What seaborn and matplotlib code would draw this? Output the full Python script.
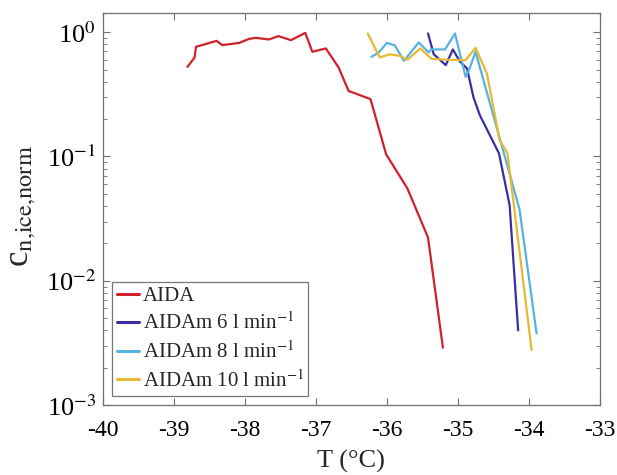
import numpy as np
import pandas as pd
import matplotlib
matplotlib.use("Agg")
import matplotlib.pyplot as plt
import seaborn as sns
from matplotlib.ticker import LogLocator, NullFormatter, FuncFormatter

# AIDA chamber
t_aida = [-38.81, -38.71, -38.69, -38.40, -38.32, -38.08, -37.94, -37.85, -37.66,
          -37.53, -37.35, -37.15, -37.05, -36.86, -36.68, -36.54, -36.23, -36.01,
          -35.71, -35.42, -35.21]
c_aida = [0.526, 0.625, 0.762, 0.851, 0.786, 0.820, 0.883, 0.900, 0.873,
          0.929, 0.862, 0.987, 0.695, 0.740, 0.520, 0.337, 0.289, 0.104,
          0.0553, 0.0223, 0.0029]

# AIDAm, 6 l/min
t_m6 = [-35.42, -35.34, -35.17, -35.07, -34.97, -34.87, -34.78, -34.69, -34.42, -34.27, -34.15]
c_m6 = [0.976, 0.665, 0.543, 0.726, 0.580, 0.510, 0.300, 0.215, 0.106, 0.0406, 0.0040]

# AIDAm, 8 l/min
t_m8 = [-36.22, -36.12, -36.00, -35.89, -35.76, -35.55, -35.41, -35.38, -35.18, -35.04,
        -34.89, -34.84, -34.75, -34.13, -33.89]
c_m8 = [0.633, 0.680, 0.818, 0.785, 0.588, 0.826, 0.685, 0.726, 0.726, 0.976,
        0.437, 0.500, 0.695, 0.0375, 0.00377]

# AIDAm, 10 l/min
t_m10 = [-36.27, -36.10, -35.96, -35.82, -35.71, -35.53, -35.37, -35.15, -34.89,
         -34.75, -34.59, -34.41, -34.30, -33.96]
c_m10 = [0.976, 0.627, 0.663, 0.645, 0.600, 0.740, 0.610, 0.600, 0.595,
         0.748, 0.465, 0.135, 0.106, 0.00277]

labels = ["AIDA", r"AIDAm 6 l min$^{\mathrm{-1}}$", r"AIDAm 8 l min$^{\mathrm{-1}}$",
          r"AIDAm 10 l min$^{\mathrm{-1}}$"]
colors = ["#d0202a", "#3a2f9e", "#55b4de", "#e6b935"]

x_ticks = [-40, -39, -38, -37, -36, -35, -34, -33]

frames = []
for lab, t, c in zip(labels, [t_aida, t_m6, t_m8, t_m10], [c_aida, c_m6, c_m8, c_m10]):
    frames.append(pd.DataFrame({"T": t, "c": c, "series": lab}))
df = pd.concat(frames, ignore_index=True)

sns.set_theme(style="ticks")
plt.rcParams["font.family"] = ["Liberation Serif", "DejaVu Serif"]
plt.rcParams["mathtext.fontset"] = "stix"

fig = plt.figure(figsize=(6.17, 4.75), dpi=100)
ax = fig.add_axes([0.167, 0.147, 0.805, 0.826])

sns.lineplot(data=df, x="T", y="c", hue="series", hue_order=labels,
             palette=dict(zip(labels, colors)), sort=False, estimator=None,
             linewidth=1.6, ax=ax)

ax.set_yscale("log")
ax.set_xlim(-40, -33)
ax.set_ylim(1e-3, 1.43)
ax.set_xticks(x_ticks)
ax.set_xticklabels([str(v) for v in x_ticks])
ax.yaxis.set_major_locator(LogLocator(base=10, numticks=10))
ax.yaxis.set_major_formatter(FuncFormatter(
    lambda v, pos: r"10$^{\mathrm{%d}}$" % int(round(np.log10(v)))))
ax.yaxis.set_minor_locator(LogLocator(base=10, subs=np.arange(2, 10), numticks=10))
ax.yaxis.set_minor_formatter(NullFormatter())

for s in ax.spines.values():
    s.set_color("#6e6e6e")
    s.set_linewidth(0.9)
ax.tick_params(which="both", direction="in", top=True, right=True,
               color="#6e6e6e", labelcolor="black")
ax.tick_params(which="major", length=5, width=0.8)
ax.tick_params(which="minor", length=3, width=0.6)
ax.tick_params(axis="x", labelsize=17, pad=11)
ax.tick_params(axis="y", labelsize=19, pad=5)

ax.set_xlabel("T (°C)", fontsize=19, labelpad=6)
ax.set_ylabel(r"c$_{\mathrm{n{,}ice{,}norm}}$", fontsize=25)
ax.yaxis.set_label_coords(-0.131, 0.507)

leg = ax.legend(loc="lower left", fontsize=15, handlelength=1.1, handletextpad=0.15,
                borderpad=0.2, labelspacing=0.33, frameon=True, fancybox=False,
                borderaxespad=0.45)
leg.get_frame().set_edgecolor("#555555")
leg.get_frame().set_linewidth(0.9)
for line in leg.get_lines():
    line.set_linewidth(2.2)

fig.savefig("out.png", dpi=100)
